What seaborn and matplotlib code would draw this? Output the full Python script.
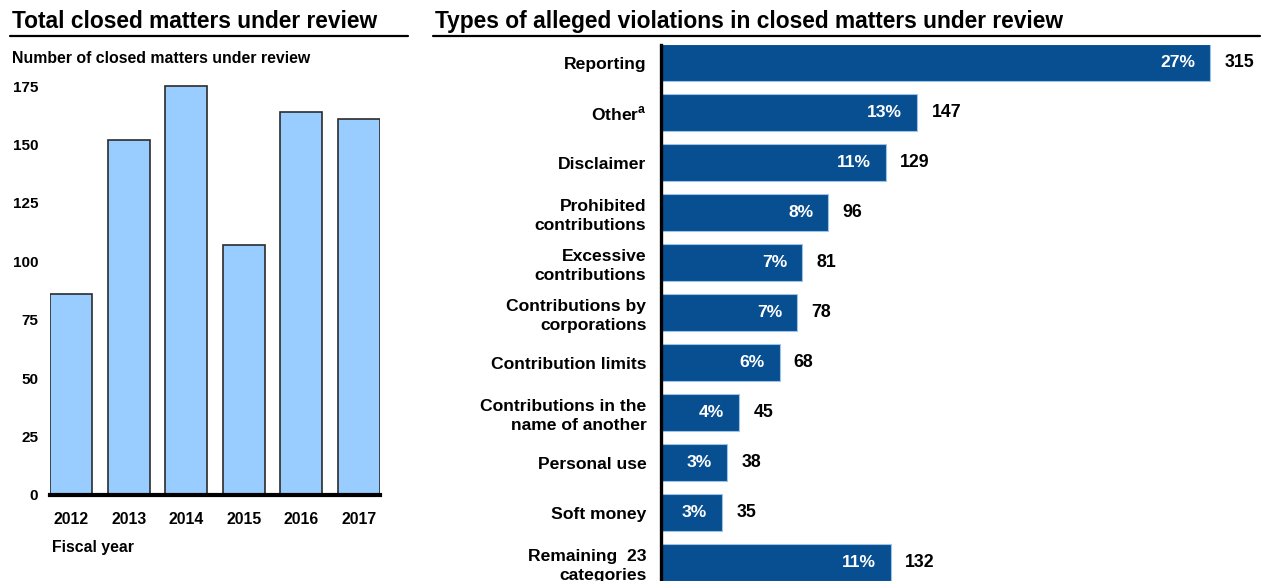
import pandas as pd
import matplotlib
matplotlib.use("Agg")
import matplotlib.pyplot as plt
import seaborn as sns

# data
years = ["2012", "2013", "2014", "2015", "2016", "2017"]
closed_matters = [86, 152, 175, 107, 164, 161]

violation_types = [
    "Reporting", "Other$^{\\mathbf{a}}$", "Disclaimer", "Prohibited\ncontributions",
    "Excessive\ncontributions", "Contributions by\ncorporations", "Contribution limits",
    "Contributions in the\nname of another", "Personal use", "Soft money",
    "Remaining  23\ncategories",
]
violation_counts = [315, 147, 129, 96, 81, 78, 68, 45, 38, 35, 132]
violation_pct = [27, 13, 11, 8, 7, 7, 6, 4, 3, 3, 11]

sns.set_style("white")
plt.rcParams["font.family"] = ["Liberation Sans", "DejaVu Sans"]
plt.rcParams["font.weight"] = "bold"
plt.rcParams["text.color"] = "black"
plt.rcParams["xtick.color"] = "black"
plt.rcParams["ytick.color"] = "black"
plt.rcParams["mathtext.fontset"] = "custom"
plt.rcParams["mathtext.bf"] = "Liberation Sans:bold"

W, H = 1265, 581
fig = plt.figure(figsize=(W / 100, H / 100), dpi=100)


def px(x0, y0, x1, y1):
    # pixel box (top-left origin) -> figure fraction rect
    return [x0 / W, 1 - y1 / H, (x1 - x0) / W, (y1 - y0) / H]


# -----------------------------
# Left: total closed matters
# -----------------------------
ax1 = fig.add_axes(px(50, 80, 380, 495))
df_years = pd.DataFrame({"year": years, "count": closed_matters})
sns.barplot(data=df_years, x="year", y="count", color="#99CCFF", saturation=1,
            width=0.73, edgecolor="#2b2b2b", linewidth=1.2, ax=ax1)
ax1.set_xlim(-0.37, 5.37)
ax1.set_ylim(0, 177.6)
ax1.set_yticks(range(0, 176, 25))
ax1.set_xlabel("")
ax1.set_ylabel("")
for s in ["left", "right", "top"]:
    ax1.spines[s].set_visible(False)
ax1.spines["bottom"].set_linewidth(3)
ax1.spines["bottom"].set_color("black")
ax1.tick_params(axis="y", length=0, pad=8.5, labelsize=11, labelcolor="black")
ax1.tick_params(axis="x", length=0, pad=12, labelsize=11.4, labelcolor="black")
for lab in ax1.get_xticklabels() + ax1.get_yticklabels():
    lab.set_fontweight("bold")

# -----------------------------
# Right: types of alleged violations
# -----------------------------
ax2 = fig.add_axes(px(661, 45, 1260, 581))
df_types = pd.DataFrame({"type": violation_types, "count": violation_counts})
sns.barplot(data=df_types, x="count", y="type", orient="h", color="#074F91",
            saturation=1, width=0.734, edgecolor="#9DC3E6", linewidth=0.8, ax=ax2)
ax2.set_xlim(0, 343.5)
ax2.set_ylim(10.366, -0.354)
ax2.set_xlabel("")
ax2.set_ylabel("")
ax2.set_xticks([])
for s in ["bottom", "right", "top"]:
    ax2.spines[s].set_visible(False)
ax2.spines["left"].set_linewidth(2.4)
ax2.spines["left"].set_color("black")
ax2.tick_params(axis="y", length=0, pad=10.5, labelsize=12.6, labelcolor="black")
for lab in ax2.get_yticklabels():
    lab.set_fontweight("bold")
    lab.set_linespacing(1.3)

for i, (v, p) in enumerate(zip(violation_counts, violation_pct)):
    ax2.annotate(f"{p}%", xy=(v, i), xytext=(-10.8, 0), textcoords="offset points",
                 ha="right", va="center", color="white", fontsize=12.6,
                 fontweight="bold")
    ax2.annotate(f"{v}", xy=(v, i), xytext=(10.2, 0), textcoords="offset points",
                 ha="left", va="center", color="black", fontsize=12.8,
                 fontweight="bold")

# -----------------------------
# Titles, subtitles, rules
# -----------------------------
fig.text(12 / W, 1 - 28 / H, "Total closed matters under review", fontsize=16.4,
         fontweight="bold", va="baseline", ha="left")
fig.text(435 / W, 1 - 28 / H, "Types of alleged violations in closed matters under review",
         fontsize=16.4, fontweight="bold", va="baseline", ha="left")
fig.add_artist(plt.Line2D([10 / W, 408 / W], [1 - 36 / H, 1 - 36 / H],
                          color="black", linewidth=1.6))
fig.add_artist(plt.Line2D([433 / W, 1260 / W], [1 - 36 / H, 1 - 36 / H],
                          color="black", linewidth=1.6))
fig.text(12 / W, 1 - 63 / H, "Number of closed matters under review", fontsize=11.4,
         fontweight="bold", va="baseline", ha="left")
fig.text(52 / W, 1 - 552 / H, "Fiscal year", fontsize=11.4,
         fontweight="bold", va="baseline", ha="left")

fig.savefig("out.png", dpi=100)
